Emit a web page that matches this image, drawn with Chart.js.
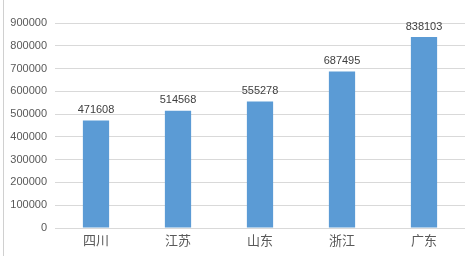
<!DOCTYPE html>
<html><head><meta charset="utf-8">
<script src="https://cdn.jsdelivr.net/npm/chart.js@4/dist/chart.umd.min.js"></script>
<style>
html,body{margin:0;padding:0;background:#fff;}
#wrap{position:relative;width:471px;height:256px;}
#edge{position:absolute;left:3px;top:0;width:1px;height:256px;background:#d0d0d0;}
canvas{position:absolute;left:0;top:0;}
</style></head>
<body><div id="wrap"><div id="edge"></div><canvas id="c" width="471" height="256"></canvas></div>
<script>
const categories = ["四川","江苏","山东","浙江","广东"];
const values = [471608, 514568, 555278, 687495, 838103];
const yMax = 900000;
const yStep = 100000;

const labelPlugin = {
  id: 'valLabels',
  afterDatasetsDraw(chart) {
    const ctx = chart.ctx;
    const meta = chart.getDatasetMeta(0);
    ctx.save();
    ctx.font = '11px "Liberation Sans", "DejaVu Sans", sans-serif';
    ctx.fillStyle = '#404040';
    ctx.textAlign = 'center';
    ctx.textBaseline = 'bottom';
    meta.data.forEach((bar, i) => {
      ctx.fillText(String(values[i]), bar.x, bar.y - 5);
    });
    ctx.restore();
  }
};

new Chart(document.getElementById('c'), {
  type: 'bar',
  data: {
    labels: categories,
    datasets: [{ data: values, backgroundColor: '#5b9bd5', barPercentage: 0.32, categoryPercentage: 1.0 }]
  },
  options: {
    responsive: false,
    animation: false,
    layout: { padding: { top: 23, right: 6, left: 0, bottom: 0 } },
    plugins: { legend: { display: false }, tooltip: { enabled: false } },
    scales: {
      x: {
        grid: { display: false, drawTicks: false },
        border: { display: false },
        ticks: { color: '#595959', font: { size: 13, family: '"Noto Sans CJK SC", sans-serif' }, padding: 4 },
        afterFit(s) { s.height = 28; }
      },
      y: {
        min: 0, max: yMax,
        grid: { color: '#d9d9d9', drawTicks: false },
        border: { display: false },
        ticks: { stepSize: yStep, color: '#595959', font: { size: 11, family: '"Liberation Sans", sans-serif' }, padding: 8,
                 callback: (v) => String(v) },
        afterFit(s) { s.width = 55; }
      }
    }
  },
  plugins: [labelPlugin]
});
</script></body></html>
